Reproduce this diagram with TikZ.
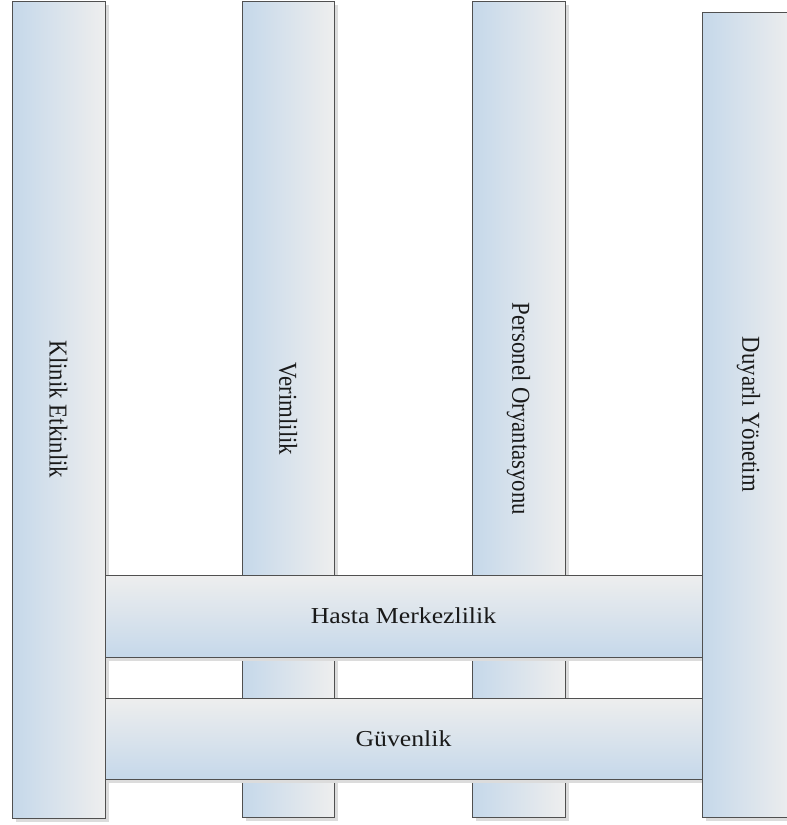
\documentclass[tikz,border=0pt]{standalone}
\usepackage{fontspec}
\setmainfont{Liberation Serif}
\usepackage{graphicx}
\usetikzlibrary{shadows}

\definecolor{paneblue}{HTML}{C5D8EA}
\definecolor{panegray}{HTML}{EEEEEE}
\definecolor{paneedge}{HTML}{505050}
\definecolor{paneshadow}{HTML}{DCDCDC}

\newcommand{\vlabel}[1]{\rotatebox{-90}{\scalebox{1}[1.13]{#1}}}
\newcommand{\hlabel}[1]{\scalebox{1.13}[1]{#1}}

\tikzset{
  pane/.style={rectangle, draw=paneedge, line width=1pt, inner sep=0pt,
    font=\fontsize{22.8}{27}\selectfont, text=black!90,
    drop shadow={shadow xshift=4pt, shadow yshift=-4pt, fill=paneshadow, opacity=1}},
  pillar/.style={pane, left color=paneblue, right color=panegray},
  beam/.style={pane, top color=panegray, bottom color=paneblue}
}

\begin{document}
\begin{tikzpicture}[x=1pt, y=-1pt]
  \useasboundingbox (0,0) rectangle (787,825);
  \clip (0,0) rectangle (787,825);

  % vertical pillars behind the beams
  \node[pillar, minimum width=92pt, minimum height=816pt] (c2) at (288,409) {\vlabel{Verimlilik}};
  \node[pillar, minimum width=93pt, minimum height=816pt] (c3) at (518.5,409) {\vlabel{Personel Oryantasyonu}};
  \node[pillar, minimum width=93pt, minimum height=817pt] (c1) at (58.5,409.5) {\vlabel{Klinik Etkinlik}};

  % horizontal beams
  \node[beam, minimum width=597pt, minimum height=82pt] (b1) at (403.5,616) {\hlabel{Hasta Merkezlilik}};
  \node[beam, minimum width=597pt, minimum height=81pt] (b2) at (403.5,738.5) {\hlabel{Güvenlik}};

  % right pillar in front of the beams
  \node[pillar, minimum width=93pt, minimum height=805pt] (c4) at (748.5,414.5) {\vlabel{Duyarlı Yönetim}};
\end{tikzpicture}
\end{document}
